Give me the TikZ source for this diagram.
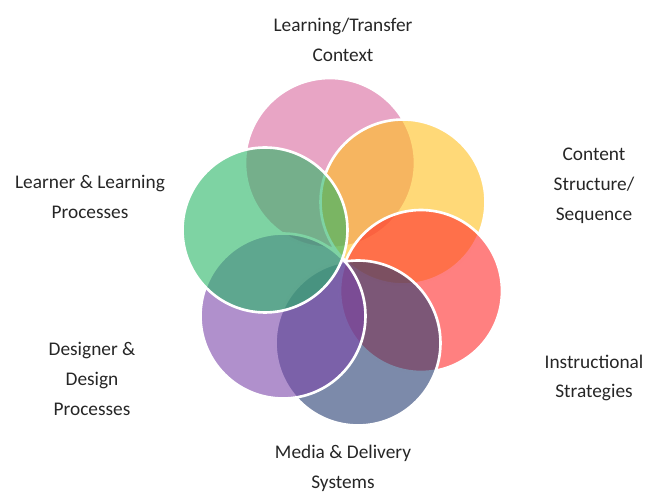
\documentclass[tikz,border=0pt]{standalone}
\usepackage{fontspec}
\setmainfont{Carlito}
\usetikzlibrary{shapes.geometric}

\definecolor{ctxpink}{RGB}{217,105,158}
\definecolor{cntyellow}{RGB}{255,192,30}
\definecolor{strred}{RGB}{255,43,43}
\definecolor{medianavy}{RGB}{37,60,113}
\definecolor{dsgpurple}{RGB}{123,70,170}
\definecolor{lrngreen}{RGB}{40,182,102}

\tikzstyle{petal} = [circle, minimum size=3.3cm, inner sep=0pt, draw=white, line width=1.5pt, fill opacity=0.6]
\tikzstyle{areatext} = [text centered, align=center, font=\fontsize{11}{17}\selectfont, text=black!85]

\begin{document}
\begin{tikzpicture}[x=0.02cm, y=-0.02cm]

    \useasboundingbox (0,0) rectangle (646,492);

    % petals, drawn in cycle order so each one lies over the previous
    \node (context) [petal, fill=ctxpink, minimum size=3.4cm] at (330,163) {};
    \node (content) [petal, fill=cntyellow] at (403,202) {};
    \node (strategies) [petal, fill=strred, minimum size=3.24cm] at (421,291) {};
    \node (media) [petal, fill=medianavy] at (358,343) {};
    \node (designer) [petal, fill=dsgpurple] at (283,316) {};
    \node (learner) [petal, fill=lrngreen] at (265,230) {};

    % captions round the flower
    \node (contexttxt) [areatext] at (343,40) {Learning/Transfer\\Context};
    \node (contenttxt) [areatext] at (594,186) {Content\\Structure/\\Sequence};
    \node (strategiestxt) [areatext] at (594,378) {Instructional\\Strategies};
    \node (mediatxt) [areatext] at (343,468) {Media \& Delivery\\Systems};
    \node (designertxt) [areatext] at (92,379) {Designer \&\\Design\\Processes};
    \node (learnertxt) [areatext] at (90,197) {Learner \& Learning\\Processes};

\end{tikzpicture}
\end{document}
